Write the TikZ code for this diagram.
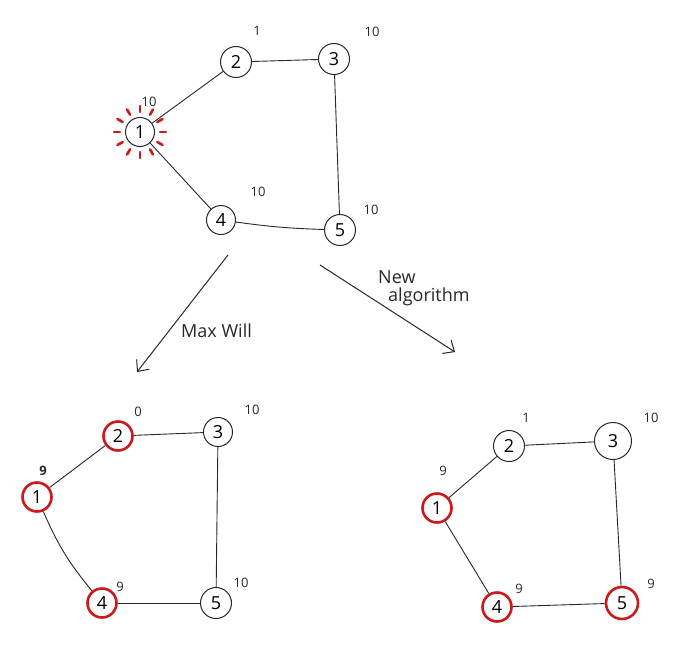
\documentclass[tikz,border=0pt]{standalone}
\usepackage{fontspec}
\setmainfont{Open Sans}
\usetikzlibrary{arrows.meta}
\definecolor{hilite}{RGB}{205,25,25}
\definecolor{ink}{RGB}{40,40,40}
\begin{document}
\begin{tikzpicture}[x=1pt,y=-1pt,
  vtx/.style={circle,draw=ink,line width=1pt,minimum size=29pt,inner sep=0pt,font=\fontsize{18}{18}\selectfont},
  hot/.style={vtx,draw=hilite,line width=2.6pt},
  edge/.style={draw=ink,line width=0.9pt},
  val/.style={font=\fontsize{13}{13}\selectfont,text=ink,inner sep=0pt},
  flow/.style={draw=ink,line width=1pt,-{Straight Barb[length=9pt,width=16pt,line width=1pt]}},
  caption/.style={font=\fontsize{18}{19}\selectfont,text=ink,align=left,inner sep=0pt}]
\useasboundingbox (0,0) rectangle (685,669);
\fill[white] (0,0) rectangle (685,669);

% original graph
\node[vtx] (a1) at (140,132) {1};
\node[vtx,minimum size=31pt] (a2) at (236,62) {2};
\node[vtx,minimum size=31pt] (a3) at (334,59) {3};
\node[vtx] (a4) at (221,220) {4};
\node[vtx,minimum size=31pt] (a5) at (340,230) {5};
\draw[edge] (a1) -- (a2);
\draw[edge] (a2) -- (a3);
\draw[edge] (a3) -- (a5);
\draw[edge] (a5) to[bend left=3] (a4);
\draw[edge] (a4) -- (a1);
\node[val] (va1) at (149,102) {10};
\node[val] (va2) at (257,31) {1};
\node[val] (va3) at (372,32) {10};
\node[val] (va4) at (258,192) {10};
\node[val] (va5) at (371,210) {10};
% highlight rays round vertex 1
\foreach \ang in {0,30,...,330}
  \draw[hilite,line width=2.6pt,line cap=round] (a1.center) ++(\ang:20) -- ++(\ang:6);

% transitions
\coordinate (s1) at (228,255);
\coordinate (e1) at (137,372);
\coordinate (s2) at (320,265);
\coordinate (e2) at (455,352);
\draw[flow] (s1) -- (e1);
\draw[flow] (s2) -- (e2);
\node[caption,anchor=west] (t1) at (181,331) {Max Will};
\node[caption,anchor=west] (t2) at (378,288) {New\\[-1pt]\hspace*{10pt}algorithm};

% result of Max Will
\node[hot] (b1) at (37,497) {1};
\node[hot] (b2) at (118,436) {2};
\node[vtx] (b3) at (218,432) {3};
\node[hot] (b4) at (102,603) {4};
\node[vtx,minimum size=31pt] (b5) at (216,603) {5};
\draw[edge] (b1) -- (b2);
\draw[edge] (b2) -- (b3);
\draw[edge] (b3) -- (b5);
\draw[edge] (b5) -- (b4);
\draw[edge] (b4) to[bend left=8] (b1);
\node[val] (vb1) at (43,471) {\textbf{9}};
\node[val] (vb2) at (138,412) {0};
\node[val] (vb3) at (252,410) {10};
\node[val] (vb4) at (120,587) {9};
\node[val] (vb5) at (241,583) {10};

% result of the new algorithm
\node[hot] (c1) at (437,508) {1};
\node[vtx,minimum size=31pt] (c2) at (509,446) {2};
\node[vtx,minimum size=37pt] (c3) at (613,441) {3};
\node[hot] (c4) at (497,607) {4};
\node[hot,minimum size=32pt] (c5) at (622,603) {5};
\draw[edge] (c1) -- (c2);
\draw[edge] (c2) -- (c3);
\draw[edge] (c3) -- (c5);
\draw[edge] (c5) -- (c4);
\draw[edge] (c4) -- (c1);
\node[val] (vc1) at (443,471) {9};
\node[val] (vc2) at (526,418) {1};
\node[val] (vc3) at (651,418) {10};
\node[val] (vc4) at (519,589) {9};
\node[val] (vc5) at (651,584) {9};
\end{tikzpicture}
\end{document}
